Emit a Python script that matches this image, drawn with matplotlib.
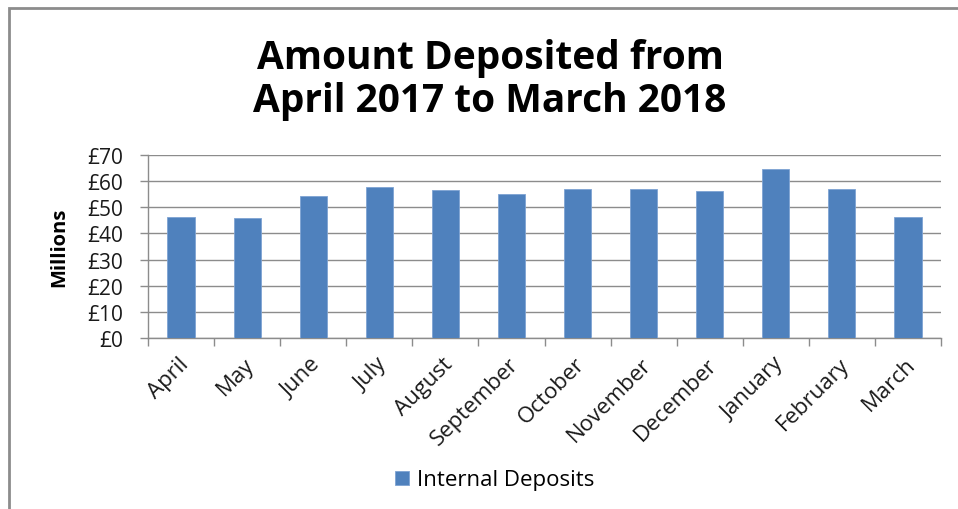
import numpy as np
import matplotlib
matplotlib.use('Agg')
import matplotlib.pyplot as plt
import matplotlib.transforms as mtransforms
from matplotlib.patches import Rectangle

# data (millions of pounds)
months = ['April', 'May', 'June', 'July', 'August', 'September',
          'October', 'November', 'December', 'January', 'February', 'March']
deposits = [46.1, 46.0, 54.5, 57.8, 56.6, 54.9,
            57.0, 57.0, 56.1, 64.5, 57.0, 46.4]
yticks = [0, 10, 20, 30, 40, 50, 60, 70]
ytick_labels = ['£%d' % v for v in yticks]
series_name = 'Internal Deposits'
title = 'Amount Deposited from\nApril 2017 to March 2018'

plt.rcParams['font.family'] = ['Open Sans', 'DejaVu Sans']

W, H = 958, 510
fig = plt.figure(figsize=(W / 100, H / 100), dpi=100)

# outer chart frame (cut off on the right and bottom in the original)
fig.patches.append(Rectangle((9 / W, -0.2), 1.2, 1.2 - 9 / H,
                             transform=fig.transFigure, fill=False,
                             edgecolor='#8c8c8c', linewidth=2))

ax = fig.add_axes([148 / W, 1 - 339 / H, (941 - 148) / W, (339 - 156) / H])

x = np.arange(len(months))
ax.bar(x, deposits, width=0.41, color='#4F81BD', edgecolor='#7ea3d3',
       linewidth=0.6, label=series_name, zorder=3)

ax.set_xlim(-0.5, len(months) - 0.5)
ax.set_ylim(0, 70)
ax.set_yticks(yticks)
ax.set_yticklabels(ytick_labels, fontsize=15, color='#1a1a1a')
ax.yaxis.grid(True, color='#8c8c8c', linewidth=1, zorder=0)

ax.set_xticks(x)
ax.set_xticklabels(months, rotation=45, ha='right', va='top',
                   rotation_mode='anchor', fontsize=16, color='#1a1a1a')
ax.tick_params(axis='x', which='major', length=0, pad=11)
ax.set_xticks(np.arange(-0.5, len(months)), minor=True)
ax.tick_params(axis='x', which='minor', length=6, color='#8c8c8c', width=1)
ax.tick_params(axis='y', length=6, color='#8c8c8c', width=1, pad=12)

# nudge month labels a little left, like the original
shift = mtransforms.ScaledTranslation(-3 / 100, 0, fig.dpi_scale_trans)
for lab in ax.get_xticklabels():
    lab.set_transform(lab.get_transform() + shift)

for s in ['top', 'right']:
    ax.spines[s].set_visible(False)
for s in ['left', 'bottom']:
    ax.spines[s].set_color('#8c8c8c')
    ax.spines[s].set_linewidth(1)

fig.text(59 / W, 1 - 247 / H, 'Millions', rotation=90, ha='center',
         va='center', fontsize=14.5, fontweight='bold')

fig.text(490 / W, 1 - 80 / H, title, ha='center', va='center',
         fontsize=28, fontweight='bold', linespacing=1.14)

fig.legend(loc='center', bbox_to_anchor=(495 / W, 1 - 481 / H),
           fontsize=16, frameon=False, handlelength=0.6, handleheight=0.6,
           handletextpad=0.4)

fig.savefig('out.png', dpi=100)
